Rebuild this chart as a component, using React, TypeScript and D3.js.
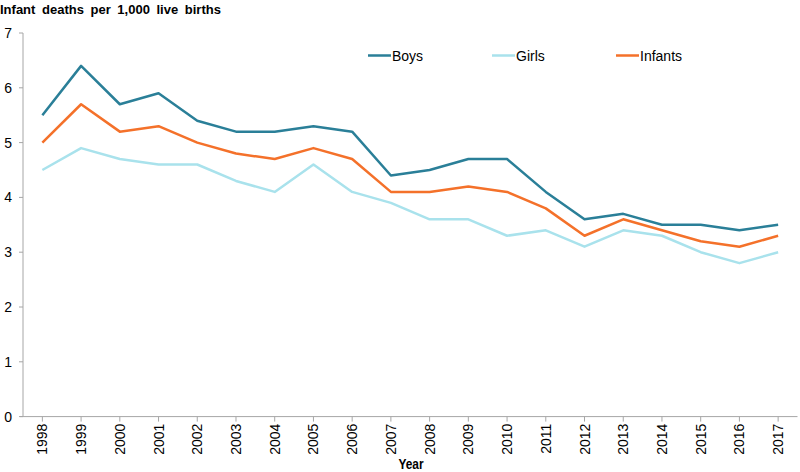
import { useRef, useEffect } from 'react';
import * as d3 from 'd3';

const years = [
  '1998', '1999', '2000', '2001', '2002', '2003', '2004', '2005', '2006', '2007',
  '2008', '2009', '2010', '2011', '2012', '2013', '2014', '2015', '2016', '2017',
];
const boys = [5.5, 6.4, 5.7, 5.9, 5.4, 5.2, 5.2, 5.3, 5.2, 4.4, 4.5, 4.7, 4.7, 4.1, 3.6, 3.7, 3.5, 3.5, 3.4, 3.5];
const girls = [4.5, 4.9, 4.7, 4.6, 4.6, 4.3, 4.1, 4.6, 4.1, 3.9, 3.6, 3.6, 3.3, 3.4, 3.1, 3.4, 3.3, 3.0, 2.8, 3.0];
const infants = [5.0, 5.7, 5.2, 5.3, 5.0, 4.8, 4.7, 4.9, 4.7, 4.1, 4.1, 4.2, 4.1, 3.8, 3.3, 3.6, 3.4, 3.2, 3.1, 3.3];
const yTicks = [0, 1, 2, 3, 4, 5, 6, 7];

const series = [
  { name: 'Boys', values: boys, colour: '#2a7f98', legendX: 368 },
  { name: 'Girls', values: girls, colour: '#a9e2ec', legendX: 492 },
  { name: 'Infants', values: infants, colour: '#f4712a', legendX: 616 },
];

const W = 800;
const H = 472;
const axisColour = '#a6a6a6';
const font = '"Liberation Sans", Arial, sans-serif';

export default function App() {
  const svgRef = useRef<SVGSVGElement>(null);

  useEffect(() => {
    if (!svgRef.current) return;
    const svg = d3.select(svgRef.current);
    svg.selectAll('*').remove();

    const x = d3.scaleBand().domain(years).range([23, 797.5]);
    const y = d3.scaleLinear().domain([0, 7]).range([416.6, 33]);
    const cx = (yr: string) => (x(yr) as number) + x.bandwidth() / 2;

    // title
    svg.append('text')
      .attr('x', 0).attr('y', 14)
      .attr('font-family', font).attr('font-size', 13).attr('font-weight', 'bold')
      .attr('word-spacing', 3)
      .attr('fill', '#000')
      .text('Infant deaths per 1,000 live births');

    // y axis
    svg.append('line')
      .attr('x1', 23).attr('x2', 23).attr('y1', y(7)).attr('y2', y(0))
      .attr('stroke', axisColour);
    yTicks.forEach(t => {
      svg.append('line')
        .attr('x1', 19).attr('x2', 23).attr('y1', y(t)).attr('y2', y(t))
        .attr('stroke', axisColour);
      svg.append('text')
        .attr('x', 12).attr('y', y(t) + 5)
        .attr('text-anchor', 'end')
        .attr('font-family', font).attr('font-size', 14).attr('fill', '#000')
        .text(t);
    });

    // x axis
    svg.append('line')
      .attr('x1', 20).attr('x2', 797.5).attr('y1', y(0)).attr('y2', y(0))
      .attr('stroke', axisColour);
    years.forEach(yr => {
      svg.append('line')
        .attr('x1', cx(yr)).attr('x2', cx(yr)).attr('y1', y(0)).attr('y2', y(0) + 5)
        .attr('stroke', axisColour);
      svg.append('text')
        .attr('transform', `translate(${cx(yr) + 5},${y(0) + 7}) rotate(-90)`)
        .attr('text-anchor', 'end')
        .attr('font-family', font).attr('font-size', 14).attr('fill', '#000')
        .text(yr);
    });
    svg.append('text')
      .attr('x', 411).attr('y', 469)
      .attr('text-anchor', 'middle')
      .attr('font-family', font).attr('font-size', 14).attr('font-weight', 'bold')
      .attr('fill', '#000')
      .attr('transform', 'translate(411,0) scale(0.85,1) translate(-411,0)')
      .text('Year');

    const line = d3.line<number>()
      .x((_, i) => cx(years[i]))
      .y(d => y(d));

    series.forEach(s => {
      svg.append('path')
        .datum(s.values)
        .attr('fill', 'none')
        .attr('stroke', s.colour)
        .attr('stroke-width', 2.5)
        .attr('stroke-linejoin', 'round')
        .attr('d', line);

      svg.append('line')
        .attr('x1', s.legendX).attr('x2', s.legendX + 23)
        .attr('y1', 55.5).attr('y2', 55.5)
        .attr('stroke', s.colour).attr('stroke-width', 2.5);
      svg.append('text')
        .attr('x', s.legendX + 24).attr('y', 60.5)
        .attr('font-family', font).attr('font-size', 14).attr('fill', '#000')
        .text(s.name);
    });
  }, []);

  return (
    <svg
      ref={svgRef}
      width={W}
      height={H}
      style={{ position: 'absolute', left: 0, top: 0 }}
    />
  );
}
